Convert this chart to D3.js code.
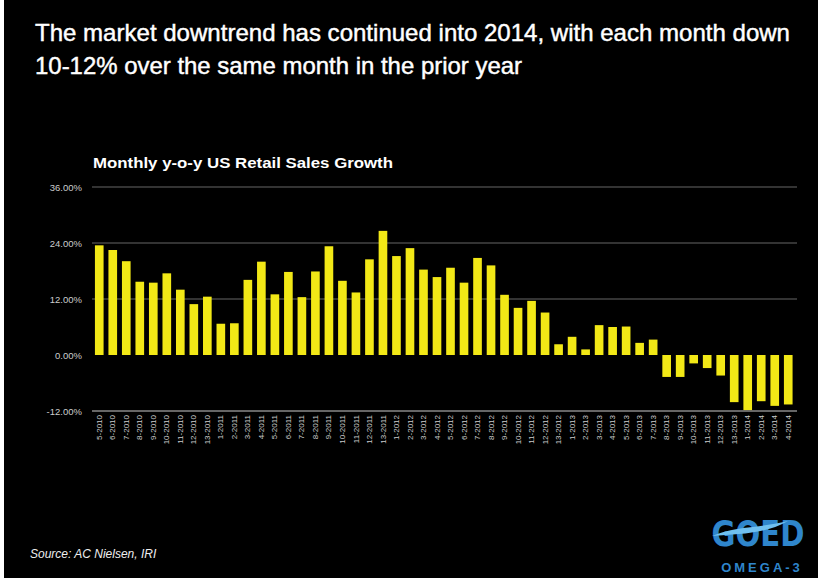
<!DOCTYPE html>
<meta charset="utf-8">
<title>Monthly y-o-y US Retail Sales Growth</title>
<script src="https://d3js.org/d3.v7.min.js"></script>
<style>
body { margin: 0; background: #fff; }
svg { display: block; font-family: "Liberation Sans", Arial, sans-serif; }
</style>
<body>
<div id="my_dataviz"></div>
<script>
// 4-week periods, 5-2010 through 4-2014
var periods = [
  "5-2010","6-2010","7-2010","8-2010","9-2010","10-2010","11-2010","12-2010","13-2010",
  "1-2011","2-2011","3-2011","4-2011","5-2011","6-2011","7-2011","8-2011","9-2011","10-2011","11-2011","12-2011","13-2011",
  "1-2012","2-2012","3-2012","4-2012","5-2012","6-2012","7-2012","8-2012","9-2012","10-2012","11-2012","12-2012","13-2012",
  "1-2013","2-2013","3-2013","4-2013","5-2013","6-2013","7-2013","8-2013","9-2013","10-2013","11-2013","12-2013","13-2013",
  "1-2014","2-2014","3-2014","4-2014"
];

// y-o-y growth, percent
var growth = [
  23.5, 22.5, 20.1, 15.7, 15.5, 17.5, 14.0, 10.9, 12.5,
  6.7, 6.8, 16.1, 20.0, 13.0, 17.8, 12.4, 17.9, 23.3, 15.9, 13.4, 20.5, 26.6,
  21.2, 22.9, 18.3, 16.7, 18.7, 15.5, 20.8, 19.2, 12.9, 10.1, 11.6, 9.1, 2.3,
  3.9, 1.2, 6.4, 6.0, 6.1, 2.6, 3.3, -4.7, -4.7, -1.8, -2.8, -4.4, -10.1,
  -11.8, -9.9, -10.9, -10.6
];

var yTicks = [-12, 0, 12, 24, 36];

var W = 818, H = 582;

var svg = d3.select("#my_dataviz")
  .append("svg")
    .attr("width", W)
    .attr("height", H);

// black slide background with a thin white edge on left and bottom
svg.append("rect")
  .attr("x", 4).attr("y", 0)
  .attr("width", W - 4).attr("height", H - 4)
  .attr("fill", "#000");

// title
var title = svg.append("text")
  .attr("fill", "#fff")
  .attr("stroke", "#fff")
  .attr("stroke-width", 0.45)
  .style("font-size", "24.5px");
title.append("tspan").attr("x", 35).attr("y", 41)
  .attr("textLength", 755).attr("lengthAdjust", "spacingAndGlyphs")
  .text("The market downtrend has continued into 2014, with each month down");
title.append("tspan").attr("x", 35).attr("y", 74)
  .attr("textLength", 487).attr("lengthAdjust", "spacingAndGlyphs")
  .text("10-12% over the same month in the prior year");

// chart subtitle
svg.append("text")
  .attr("x", 93).attr("y", 168)
  .attr("fill", "#fff")
  .attr("textLength", 300).attr("lengthAdjust", "spacingAndGlyphs")
  .style("font-size", "14.5px")
  .style("font-weight", "bold")
  .text("Monthly y-o-y US Retail Sales Growth");

var x = d3.scaleBand()
  .domain(periods)
  .range([92.5, 795])
  .paddingInner(0.36)
  .paddingOuter(0.18);

var y = d3.scaleLinear()
  .domain([-12, 36])
  .range([411, 187]);

// gridlines
svg.append("g")
  .selectAll("line")
  .data(yTicks.filter(function(d) { return d !== 0; }))
  .enter()
  .append("line")
    .attr("x1", 92).attr("x2", 797)
    .attr("y1", function(d) { return y(d); })
    .attr("y2", function(d) { return y(d); })
    .attr("stroke", function(d) { return d === -12 ? "#888" : "#666"; })
    .attr("stroke-width", function(d) { return d === -12 ? 1.5 : 1; });

// y axis labels
var yAxis = svg.append("g")
  .attr("transform", "translate(86,0)")
  .call(d3.axisLeft(y).tickValues(yTicks).tickSize(0).tickPadding(4)
    .tickFormat(function(d) { return d.toFixed(2) + "%"; }));
yAxis.select(".domain").remove();
yAxis.selectAll("text")
  .attr("fill", "#ccc")
  .style("font-family", "'Liberation Sans', Arial, sans-serif")
  .style("font-size", "9.5px");

// bars
svg.append("g")
  .selectAll("rect")
  .data(growth)
  .enter()
  .append("rect")
    .attr("x", function(d, i) { return x(periods[i]); })
    .attr("width", x.bandwidth())
    .attr("y", function(d) { return y(Math.max(0, d)); })
    .attr("height", function(d) { return Math.abs(y(d) - y(0)); })
    .attr("fill", "#f2e816");

// x axis labels
var xAxis = svg.append("g")
  .attr("transform", "translate(0," + y(-12) + ")")
  .call(d3.axisBottom(x).tickSize(0).tickPadding(0));
xAxis.select(".domain").remove();
xAxis.selectAll("text")
  .attr("fill", "#ccc")
  .style("font-family", "'Liberation Sans', Arial, sans-serif")
  .style("font-size", "8px")
  .attr("text-anchor", "end")
  .attr("dy", "0.32em")
  .attr("transform", "translate(0,4) rotate(-90)")
  .attr("x", 0).attr("y", 0);

// source
svg.append("text")
  .attr("x", 30).attr("y", 558)
  .attr("fill", "#eee")
  .style("font-size", "12px")
  .style("font-style", "italic")
  .text("Source: AC Nielsen, IRI");

// logo
var logo = svg.append("g");
logo.append("text")
  .attr("x", 758).attr("y", 546)
  .attr("text-anchor", "middle")
  .attr("fill", "#2f86cc")
  .attr("textLength", 93).attr("lengthAdjust", "spacingAndGlyphs")
  .style("font-size", "36px")
  .style("font-weight", "bold")
  .style("font-family", "'DejaVu Sans Condensed', 'Liberation Sans Narrow', sans-serif")
  .text("GOED");
logo.append("path")
  .attr("d", "M712,536 C735,526 760,528 788,521 C765,534 740,534 712,536 Z")
  .attr("fill", "#6fc0f0");
logo.append("text")
  .attr("x", 762).attr("y", 572)
  .attr("text-anchor", "middle")
  .attr("fill", "#2f86cc")
  .style("font-size", "13px")
  .style("font-weight", "bold")
  .style("letter-spacing", "3px")
  .text("OMEGA-3");
</script>
</body>
